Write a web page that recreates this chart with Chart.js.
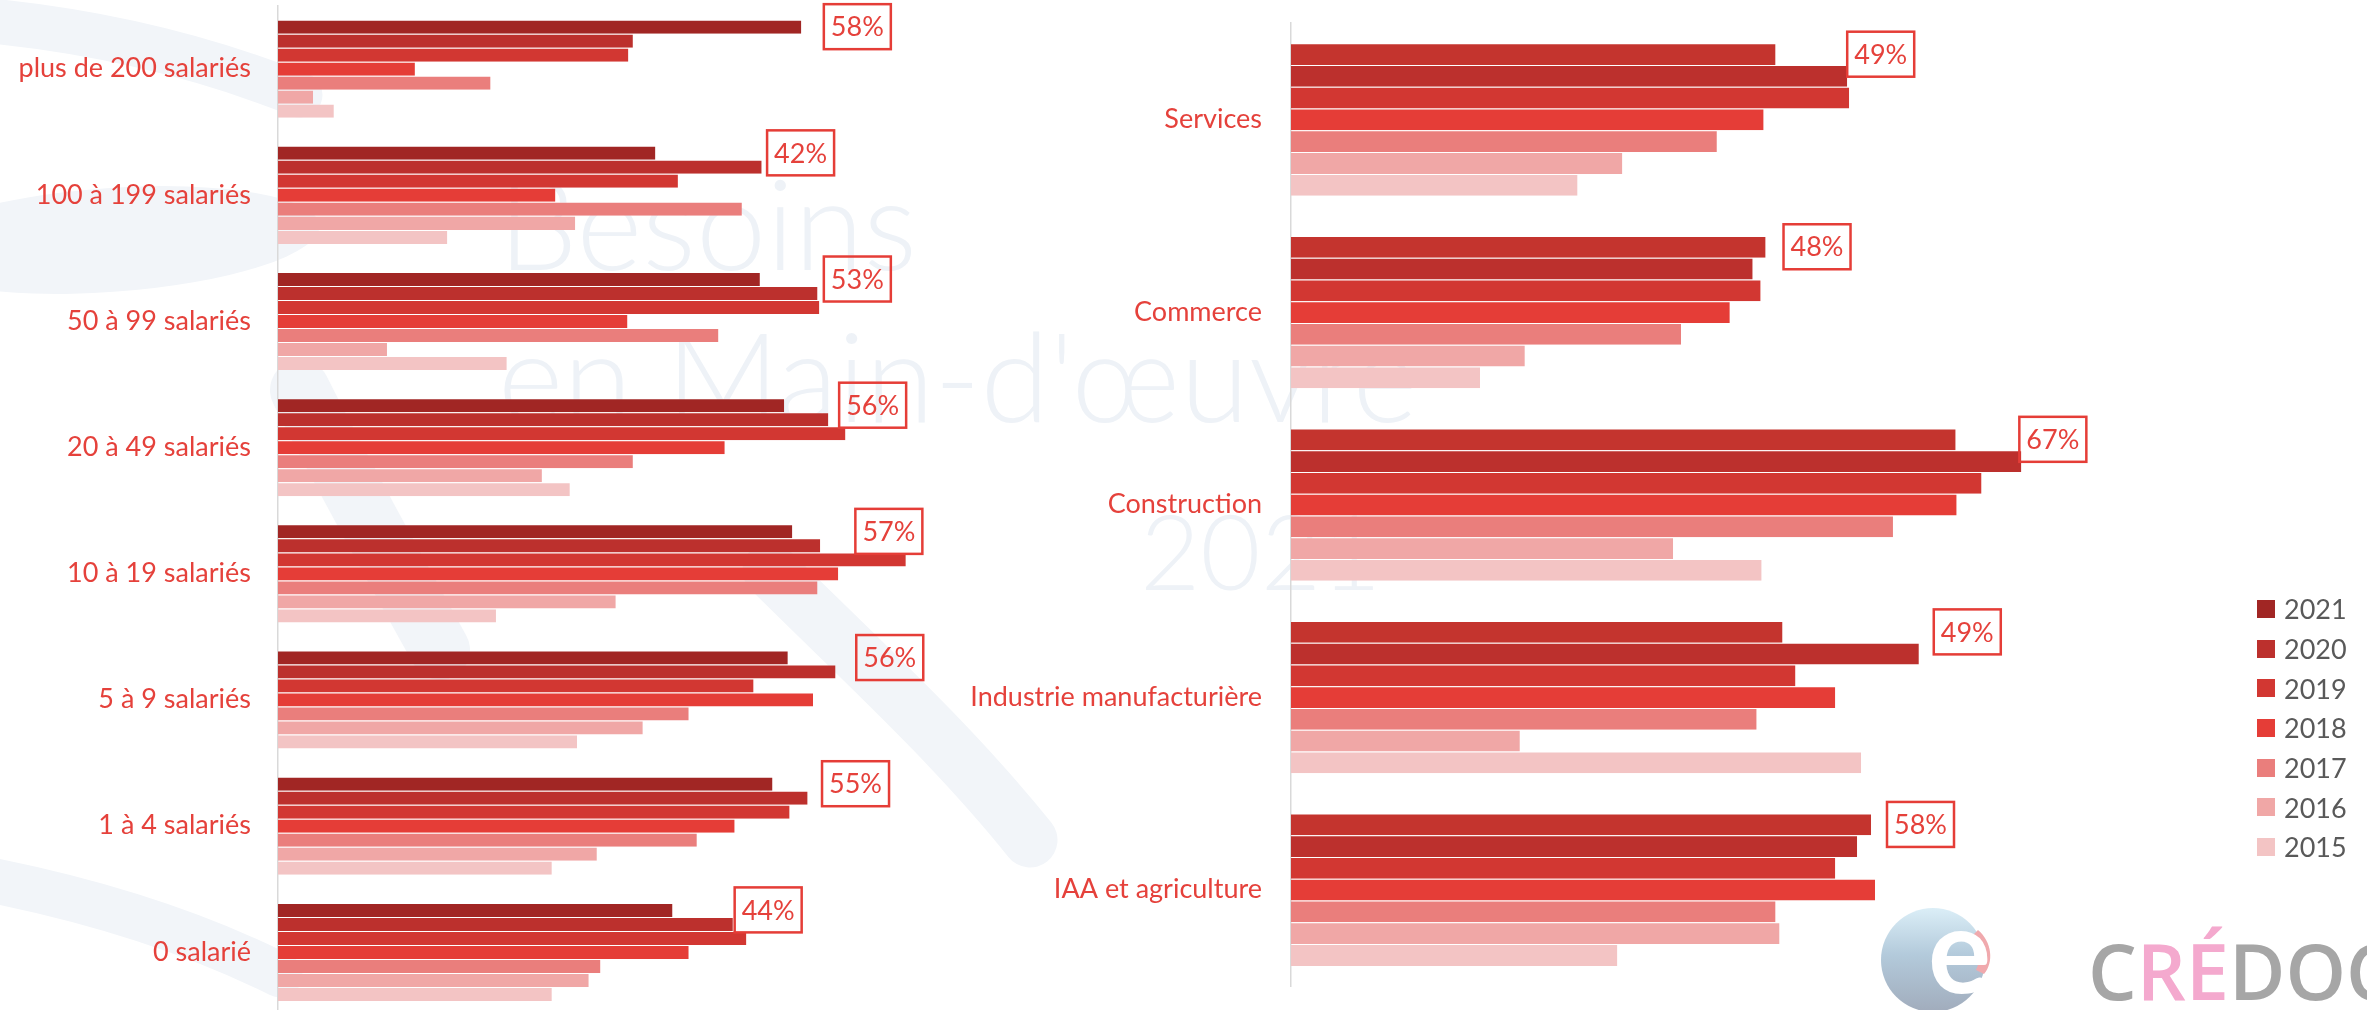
<!DOCTYPE html>
<html>
<head>
<meta charset="utf-8">
<script src="https://cdn.jsdelivr.net/npm/chart.js@4.4.0/dist/chart.umd.min.js"></script>
<style>
  html, body { margin: 0; padding: 0; background: #fff; }
  body { width: 2367px; height: 1010px; overflow: hidden; position: relative; font-family: Lato, sans-serif; }
  #bg { position: absolute; left: 0; top: 0; }
  #leftChart { position: absolute; left: 0; top: 0; }
  #rightChart { position: absolute; left: 900px; top: 0; }
  #legend { position: absolute; left: 2257px; top: 589px; }
  #legend div { height: 39.7px; display: flex; align-items: center; font: 27px Lato, sans-serif; color: #595959; }
  #legend span.sw { display: inline-block; width: 18px; height: 18px; margin-right: 9px; }
  #logo { position: absolute; left: 1860px; top: 890px; }
</style>
</head>
<body>
<svg id="bg" width="2367" height="1010">
  <g fill="none" stroke="#f2f5f9" stroke-linecap="round">
    <path d="M-20 20 C 90 30, 200 55, 300 95" stroke-width="45"/>
    <path d="M300 390 C 340 470, 390 560, 440 650" stroke-width="60"/>
    <path d="M770 570 C 850 650, 950 740, 1030 840" stroke-width="55"/>
    <path d="M-10 880 C 90 900, 190 930, 280 975" stroke-width="45"/>
  </g>
  <ellipse cx="110" cy="240" rx="210" ry="52" fill="#f2f5f9" transform="rotate(-4 110 240)"/>
  <g fill="#eef2f7" font-family="Lato, sans-serif" font-weight="300">
    <text x="498" y="270" font-size="126">Besoins</text>
    <text x="498" y="422" font-size="125">en Main-d'œuvre</text>
    <text x="1140" y="590" font-size="104">2021</text>
  </g>
</svg>
<canvas id="leftChart" width="1000" height="1022"></canvas>
<canvas id="rightChart" width="1467" height="1010"></canvas>
<div id="legend"></div>
<svg id="logo" width="507" height="120">
  <defs>
    <linearGradient id="ball" x1="0" y1="0" x2="0" y2="1">
      <stop offset="0" stop-color="#dbeef7"/>
      <stop offset="0.45" stop-color="#b3cadb"/>
      <stop offset="1" stop-color="#a1acbc"/>
    </linearGradient>
  </defs>
  <circle cx="73" cy="70" r="52" fill="url(#ball)"/>
  <path d="M118 40 C 132 52, 134 72, 124 84 L 116 80 C 122 68, 120 54, 112 46 Z" fill="#f0a9ad"/>
  <text x="68" y="103" font-family="Lato, sans-serif" font-weight="700" font-size="118" fill="#ffffff">e</text>
  <text x="228" y="110" font-family="'Open Sans', sans-serif" font-weight="600" font-size="77"><tspan fill="#a6a6a6">C</tspan><tspan fill="#f4a9ce">RÉ</tspan><tspan fill="#a6a6a6">DOC</tspan></text>
</svg>
<script>
// years, top bar to bottom bar in each group
const years = ['2021', '2020', '2019', '2018', '2017', '2016', '2015'];

// left panel: by company size (%)
const sizeCats = ['plus de 200 salariés', '100 à 199 salariés', '50 à 99 salariés', '20 à 49 salariés',
                  '10 à 19 salariés', '5 à 9 salariés', '1 à 4 salariés', '0 salarié'];
const size2021 = [58.1, 41.9, 53.5, 56.2, 57.1, 56.6, 54.9, 43.8];
const size2020 = [39.4, 53.7, 59.9, 61.1, 60.2, 61.9, 58.8, 50.5];
const size2019 = [38.9, 44.4, 60.1, 63.0, 69.7, 52.8, 56.8, 52.0];
const size2018 = [15.2, 30.8, 38.8, 49.6, 62.2, 59.4, 50.7, 45.6];
const size2017 = [23.6, 51.5, 48.9, 39.4, 59.9, 45.6, 46.5, 35.8];
const size2016 = [3.9, 33.0, 12.1, 29.3, 37.5, 40.5, 35.4, 34.5];
const size2015 = [6.2, 18.8, 25.4, 32.4, 24.2, 33.2, 30.4, 30.4];
const sizeCallout = [58, 42, 53, 56, 57, 56, 55, 44];
const sizeCalloutAt = [60.6, 54.3, 60.6, 62.3, 64.1, 64.2, 60.4, 50.7];

// right panel: by sector (%)
const sectorCats = ['Services', 'Commerce', 'Construction', 'Industrie manufacturière', 'IAA et agriculture'];
const sector2021 = [48.7, 47.7, 66.8, 49.4, 58.3];
const sector2020 = [55.9, 46.4, 73.4, 63.1, 56.9];
const sector2019 = [56.1, 47.2, 69.4, 50.7, 54.7];
const sector2018 = [47.5, 44.1, 66.9, 54.7, 58.7];
const sector2017 = [42.8, 39.2, 60.5, 46.8, 48.7];
const sector2016 = [33.3, 23.5, 38.4, 23.0, 49.1];
const sector2015 = [28.8, 19.0, 47.3, 57.3, 32.8];
const sectorCallout = [49, 48, 67, 49, 58];
const sectorCalloutAt = [55.9, 49.5, 73.2, 64.6, 59.9];

const colors = ['#a12624', '#bc302d', '#d23732', '#e53d37', '#ea7e7c', '#f0a7a6', '#f3c4c4'];
const colorsRight = ['#c4342e', '#bc302d', '#d23732', '#e53d37', '#ea7e7c', '#f0a7a6', '#f3c4c4'];
const labelRed = '#e5413b';

// boxed % next to each group, centred on the 2021 bar
function callouts(values, at) {
  return {
    id: 'callouts',
    afterDatasetsDraw(chart) {
      const ctx = chart.ctx;
      const x = chart.scales.x;
      const meta = chart.getDatasetMeta(0);
      ctx.save();
      values.forEach((v, i) => {
        const bar = meta.data[i];
        const w = 67, h = 45;
        const left = x.getPixelForValue(at[i]);
        const top = bar.y - h / 2;
        ctx.strokeStyle = '#e53d37';
        ctx.lineWidth = 2.5;
        ctx.strokeRect(left, top, w, h);
        ctx.fillStyle = labelRed;
        ctx.font = '27px Lato, sans-serif';
        ctx.textAlign = 'center';
        ctx.textBaseline = 'middle';
        ctx.fillText(v + '%', left + w / 2, top + h / 2 + 1);
      });
      ctx.restore();
    }
  };
}

function makeChart(id, cats, series, cols, opt) {
  return new Chart(document.getElementById(id), {
    type: 'bar',
    data: {
      labels: cats,
      datasets: series.map((d, i) => ({
        label: years[i],
        data: d,
        backgroundColor: cols[i],
        borderColor: 'rgba(255,255,255,0.25)',
        borderWidth: { top: 1, bottom: 0, left: 0, right: 0 },
        borderSkipped: false,
        categoryPercentage: opt.catPct,
        barPercentage: 1.0
      }))
    },
    options: {
      indexAxis: 'y',
      responsive: false,
      animation: false,
      layout: { padding: opt.padding },
      plugins: { legend: { display: false }, tooltip: { enabled: false } },
      scales: {
        x: { display: false, min: 0, max: opt.max },
        y: {
          // fixed axis position, and no label overhang eating the plot height
          afterFit: s => { s.width = opt.axisLeft; s.paddingTop = 0; s.paddingBottom = 0; },
          grid: { display: true, color: 'transparent', drawTicks: false },
          border: { display: true, color: '#d9d9d9', width: 1.5 },
          ticks: { color: labelRed, font: { family: 'Lato', size: 27 }, padding: opt.tickPad }
        }
      }
    },
    plugins: [callouts(opt.callout, opt.calloutAt)]
  });
}

makeChart('leftChart', sizeCats,
  [size2021, size2020, size2019, size2018, size2017, size2016, size2015], colors,
  { catPct: 0.777, max: 70, axisLeft: 278, tickPad: 27,
    padding: { top: 5.6, bottom: 7, left: 0, right: 91.5 },
    callout: sizeCallout, calloutAt: sizeCalloutAt });

makeChart('rightChart', sectorCats,
  [sector2021, sector2020, sector2019, sector2018, sector2017, sector2016, sector2015], colorsRight,
  { catPct: 0.791, max: 80, axisLeft: 391, tickPad: 29,
    padding: { top: 23.2, bottom: 24, left: 0, right: 280 },
    callout: sectorCallout, calloutAt: sectorCalloutAt });

// legend
const legend = document.getElementById('legend');
years.forEach((y, i) => {
  const row = document.createElement('div');
  row.innerHTML = '<span class="sw" style="background:' + colors[i] + '"></span>' + y;
  legend.appendChild(row);
});
</script>
</body>
</html>
